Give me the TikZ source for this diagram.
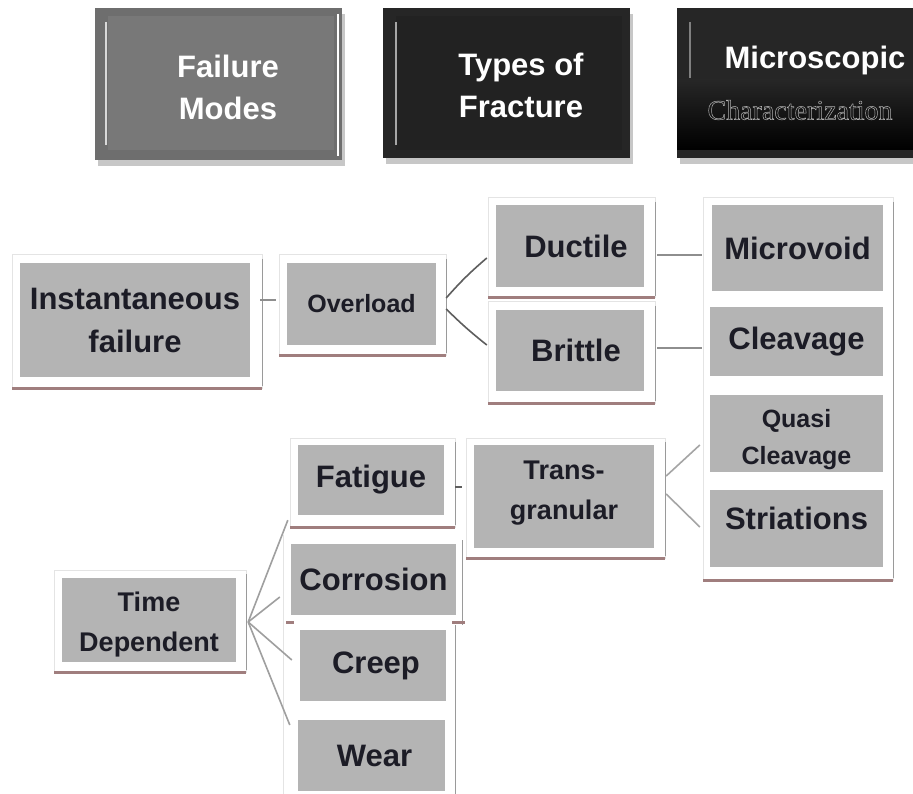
\documentclass[tikz,border=0pt]{standalone}
\usepackage{fontspec}
\setmainfont{Liberation Sans}
\newfontfamily\thinserif{Liberation Serif}
\usetikzlibrary{calc}
\definecolor{boxgray}{HTML}{B4B4B4}
\definecolor{txt}{HTML}{1C1C26}
\definecolor{rulecol}{HTML}{A07E7E}
\definecolor{linkcol}{HTML}{8E8E8E}
\definecolor{darklink}{HTML}{5E5E5E}
\definecolor{framegray}{HTML}{E4E4E4}
\definecolor{edgegray}{HTML}{9A9A9A}
\definecolor{hdrgray}{HTML}{6E6E6E}
\definecolor{hdrgrayin}{HTML}{787878}
\definecolor{hdrdark}{HTML}{262626}
\definecolor{hdrdarkin}{HTML}{222222}

% white frame with a coloured rule under it
\newcommand\panel[4]{%
  \fill[white] (#1,#2) rectangle (#3,#4);
  \draw[framegray, line width=1pt] (#1,#2) rectangle (#3,#4);
  \draw[edgegray, line width=0.8pt] (#3,#2+4) -- (#3,#4-2);
  \draw[rulecol, line width=3pt] (#1,#4) -- (#3,#4);
}
% move a label up or down inside its box without changing the box size
\newcommand\nudge[2]{\raisebox{#1}[\height][\depth]{#2}}
\newcommand\twolines[2]{\begin{tabular}{@{}c@{}}#1\\#2\end{tabular}}

\begin{document}
\begin{tikzpicture}[x=1pt,y=-1pt,
  gbox/.style={fill=boxgray, inner sep=0pt, text=txt, align=center,
    font=\bfseries\fontsize{31}{43}\selectfont},
  smalltext/.style={font=\bfseries\fontsize{25}{37}\selectfont},
  midtext/.style={font=\bfseries\fontsize{27}{40}\selectfont},
  hdrtext/.style={text=white, align=center, inner sep=0pt,
    font=\bfseries\fontsize{31}{42}\selectfont},
  linkline/.style={draw=linkcol, line width=1.6pt}]

\useasboundingbox (0,0) rectangle (913,794);
\fill[white] (0,0) rectangle (913,794);

% ---------- column headers ----------
% Failure Modes
\fill[black!22] (98,14) rectangle (345,166);
\fill[hdrgray] (95,8) rectangle (342,160);
\fill[hdrgrayin] (108,16) rectangle (334,150);
\draw[white!70!gray, line width=1.6pt] (106,22) -- (106,145);
\draw[white, line width=2pt] (338,14) -- (338,156);
\node[hdrtext] (hfm) at (228,87) {Failure\\Modes};

% Types of Fracture
\fill[black!22] (386,14) rectangle (633,164);
\fill[hdrdark] (383,8) rectangle (630,158);
\fill[hdrdarkin] (396,16) rectangle (622,150);
\draw[gray!70, line width=1.6pt] (396,22) -- (396,145);
\node[hdrtext] (htf) at (521,85) {Types of\\Fracture};

% Microscopic Characterization
\fill[black!22] (680,14) rectangle (913,164);
\fill[hdrdark] (677,8) rectangle (913,158);
\shade[top color=black!85, bottom color=black] (677,80) rectangle (913,150);
\draw[gray, line width=1.6pt] (690,22) -- (690,78);
\node[hdrtext] (hmc) at (815,60) {Microscopic};
\node[text=gray!60!white, inner sep=0pt] (hmc2) at (800,110)
  {\thinserif\fontsize{28}{30}\selectfont\special{pdf:literal direct 1 Tr 0.5 w}Characterization\special{pdf:literal direct 0 Tr}};

% ---------- frames ----------
\panel{12}{255}{262}{388}
\panel{279}{255}{446}{355}
\panel{488}{198}{655}{298}
\panel{488}{302}{655}{403}
\panel{703}{198}{893}{580}
\panel{290}{438}{455}{527}
\panel{466}{438}{665}{558}
\fill[white] (283,535) rectangle (465,794);
\draw[framegray, line width=1pt] (283,535) -- (283,794);
\draw[edgegray, line width=0.8pt] (462,540) -- (462,625);
\draw[edgegray, line width=0.8pt] (455,625) -- (455,794);
\draw[rulecol, line width=3pt] (286,622) -- (294,622);
\draw[rulecol, line width=3pt] (452,622) -- (465,622);
\panel{54}{570}{246}{672}

% ---------- boxes ----------
\node[gbox, minimum width=230pt, minimum height=114pt] (inst) at (135,320) {Instantaneous\\failure};
\node[gbox, smalltext, minimum width=149pt, minimum height=82pt] (over) at (361.5,304) {Overload};
\node[gbox, minimum width=148pt, minimum height=82pt] (duct) at (570,246) {\hspace*{12pt}Ductile};
\node[gbox, minimum width=148pt, minimum height=81pt] (brit) at (570,350.5) {\hspace*{12pt}Brittle};
\node[gbox, minimum width=171pt, minimum height=86pt] (micro) at (797.5,248) {Microvoid};
\node[gbox, minimum width=173pt, minimum height=69pt] (cleav) at (796.5,341.5) {Cleavage};
\node[gbox, smalltext, minimum width=173pt, minimum height=77pt] (quasi) at (796.5,433.5) {\nudge{-5pt}{\twolines{Quasi}{Cleavage}}};
\node[gbox, minimum width=173pt, minimum height=77pt] (stri) at (796.5,528.5) {\nudge{10pt}{Striations}};
\node[gbox, minimum width=146pt, minimum height=70pt] (fat) at (371,480) {Fatigue};
\node[gbox, midtext, minimum width=180pt, minimum height=103pt] (trans) at (564,496.5) {\nudge{5pt}{\twolines{Trans-}{granular}}};
\node[gbox, minimum width=165pt, minimum height=71pt] (corr) at (373.5,579.5) {Corrosion};
\node[gbox, minimum width=146pt, minimum height=71pt] (creep) at (373,665.5) {\hspace*{6pt}Creep};
\node[gbox, minimum width=147pt, minimum height=71pt] (wear) at (371.5,755.5) {\hspace*{6pt}Wear};
\node[gbox, midtext, minimum width=174pt, minimum height=84pt] (time) at (149,620) {\nudge{-3pt}{\twolines{Time}{Dependent}}};

% ---------- connectors ----------
\draw[linkline, line width=2pt] ([xshift=10pt,yshift=20pt]inst.east) -- ([xshift=-11pt,yshift=4pt]over.west);
\draw[linkline, draw=darklink] ([xshift=10pt,yshift=6pt]over.east) to[bend left=4] ([xshift=-9pt,yshift=-12pt]duct.west);
\draw[linkline, draw=darklink] ([xshift=10pt,yshift=-5pt]over.east) to[bend right=3] ([xshift=-9pt,yshift=5.5pt]brit.west);
\draw[linkline, line width=1.3pt] ([xshift=13pt,yshift=-9pt]duct.east) -- ([xshift=-10pt,yshift=-7pt]micro.west);
\draw[linkline, line width=1.3pt] ([xshift=13pt,yshift=2.5pt]brit.east) -- ([xshift=-8pt,yshift=-6.5pt]cleav.west);
\draw[linkline, draw=darklink, line width=2pt] ([xshift=11pt,yshift=-7pt]fat.east) -- ([xshift=-12pt,yshift=9.5pt]trans.west);
\draw[linkline, draw=linkcol!80] ([xshift=12pt,yshift=20.5pt]trans.east) -- ([xshift=-10pt,yshift=-11.5pt]quasi.west);
\draw[linkline, draw=linkcol!80] ([xshift=12pt,yshift=2.5pt]trans.east) -- ([xshift=-10pt,yshift=1.5pt]stri.west);

\coordinate (tdo) at ([xshift=12pt,yshift=-2pt]time.east);
\coordinate (tf) at ([xshift=-10pt,yshift=-5pt]fat.south west);
\coordinate (tc) at ([xshift=-11pt,yshift=-17.5pt]corr.west);
\coordinate (tr) at ([xshift=-8pt,yshift=5.5pt]creep.west);
\coordinate (tw) at ([xshift=-8pt,yshift=30.5pt]wear.west);
\draw[linkline, draw=linkcol!85] (tdo) -- (tf);
\draw[linkline, draw=linkcol!85] (tdo) -- (tc);
\draw[linkline, draw=linkcol!85] (tdo) -- (tr);
\draw[linkline, draw=linkcol!85] (tdo) -- (tw);
\end{tikzpicture}
\end{document}
